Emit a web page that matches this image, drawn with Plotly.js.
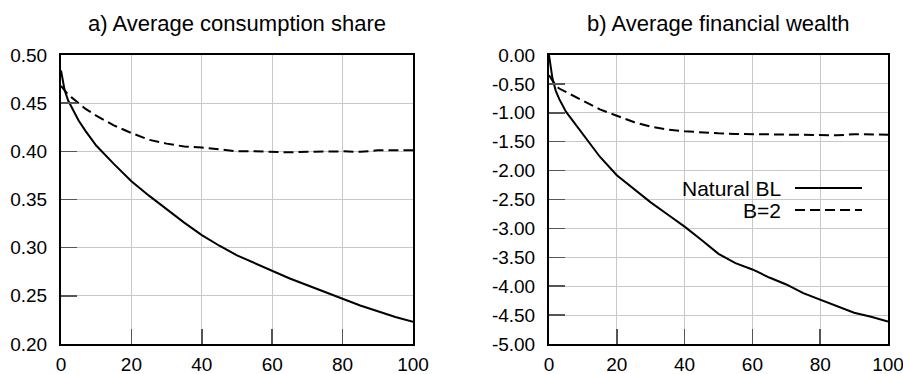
<!DOCTYPE html>
<html>
<head>
<meta charset="utf-8">
<script src="https://cdn.plot.ly/plotly-3.0.1.min.js"></script>
<style>html,body{margin:0;padding:0;background:#fff;}#chart{width:903px;height:374px;}</style>
</head>
<body>
<div id="chart"></div>
<script>
// Period (x) values
var periods = [0, 1, 2, 3, 5, 7, 10, 15, 20, 25, 30, 35, 40, 45, 50, 55, 60, 65, 70, 75, 80, 85, 90, 95, 100];

// a) Average consumption share
var consNatural = [0.484, 0.464, 0.453, 0.446, 0.432, 0.421, 0.406, 0.387, 0.369, 0.354, 0.340, 0.326, 0.313, 0.302, 0.292, 0.284, 0.276, 0.268, 0.261, 0.254, 0.247, 0.240, 0.234, 0.228, 0.223];
var consB2 = [0.468, 0.463, 0.459, 0.456, 0.450, 0.444, 0.437, 0.427, 0.419, 0.412, 0.408, 0.405, 0.404, 0.402, 0.400, 0.400, 0.3995, 0.399, 0.3995, 0.400, 0.400, 0.3995, 0.401, 0.401, 0.401];

// b) Average financial wealth
var wealthNatural = [0.00, -0.40, -0.62, -0.76, -0.98, -1.14, -1.38, -1.76, -2.08, -2.32, -2.55, -2.76, -2.97, -3.20, -3.44, -3.60, -3.71, -3.85, -3.97, -4.12, -4.23, -4.35, -4.46, -4.53, -4.61];
var wealthB2 = [-0.35, -0.45, -0.53, -0.58, -0.64, -0.70, -0.79, -0.94, -1.05, -1.16, -1.24, -1.29, -1.32, -1.34, -1.355, -1.365, -1.37, -1.375, -1.38, -1.38, -1.385, -1.39, -1.37, -1.38, -1.38];

// Tick labels
var xTicks = [0, 20, 40, 60, 80, 100];
var xTickText = ["0", "20", "40", "60", "80", "100"];
var consTicks = [0.20, 0.25, 0.30, 0.35, 0.40, 0.45, 0.50];
var consTickText = ["0.20", "0.25", "0.30", "0.35", "0.40", "0.45", "0.50"];
var wealthTicks = [-5, -4.5, -4, -3.5, -3, -2.5, -2, -1.5, -1, -0.5, 0];
var wealthTickText = ["-5.00", "-4.50", "-4.00", "-3.50", "-3.00", "-2.50", "-2.00", "-1.50", "-1.00", "-0.50", "0.00"];

var seriesNames = ["Natural BL", "B=2"];
var titles = ["a) Average consumption share", "b) Average financial wealth"];

var FONT = "Liberation Sans, Arial, Helvetica, sans-serif";
var solid = {color: "#000", width: 2, dash: "solid"};
var dashed = {color: "#000", width: 2, dash: "10px,5px"};

var traces = [
  {x: periods, y: consNatural, xaxis: "x", yaxis: "y", mode: "lines", line: solid, name: seriesNames[0], showlegend: false},
  {x: periods, y: consB2, xaxis: "x", yaxis: "y", mode: "lines", line: dashed, name: seriesNames[1], showlegend: false},
  {x: periods, y: wealthNatural, xaxis: "x2", yaxis: "y2", mode: "lines", line: solid, name: seriesNames[0], showlegend: false},
  {x: periods, y: wealthB2, xaxis: "x2", yaxis: "y2", mode: "lines", line: dashed, name: seriesNames[1], showlegend: false}
];

function xAxis(domain, anchor) {
  return {
    domain: domain, anchor: anchor, range: [0, 100],
    tickmode: "array", tickvals: xTicks, ticktext: xTickText,
    ticks: "inside", ticklen: 15, tickwidth: 1.5, tickcolor: "#555",
    showline: true, linecolor: "#000", linewidth: 2, mirror: true,
    showgrid: true, gridcolor: "#c8c8c8", gridwidth: 1, zeroline: false,
    ticklabelstandoff: 2, ticklabeloverflow: "allow",
    tickfont: {family: FONT, size: 19, color: "#000"}
  };
}
function yAxis(range, vals, text, anchor) {
  return {
    domain: [1 - 344/374, 1 - 55/374], anchor: anchor, range: range,
    tickmode: "array", tickvals: vals, ticktext: text,
    ticks: "inside", ticklen: 16, tickwidth: 1.5, tickcolor: "#555",
    showline: true, linecolor: "#000", linewidth: 2, mirror: true,
    showgrid: true, gridcolor: "#c8c8c8", gridwidth: 1, zeroline: false,
    ticklabelstandoff: 8, ticklabeloverflow: "allow",
    tickfont: {family: FONT, size: 19, color: "#000"}
  };
}

var legX0 = 795/903, legX1 = 862/903, legTextX = 782/903;
var legY1 = 1 - 188/374, legY2 = 1 - 210/374;

var layout = {
  width: 903, height: 374,
  margin: {l: 0, r: 0, t: 0, b: 0},
  paper_bgcolor: "#fff", plot_bgcolor: "#fff",
  showlegend: false,
  font: {family: FONT, color: "#000"},
  xaxis: xAxis([61/903, 413/903], "y"),
  yaxis: yAxis([0.2, 0.5], consTicks, consTickText, "x"),
  xaxis2: xAxis([549/903, 888/903], "y2"),
  yaxis2: yAxis([-5, 0], wealthTicks, wealthTickText, "x2"),
  annotations: [
    {text: titles[0], xref: "x domain", yref: "paper", x: 0.5, y: 1 - 23/374, xanchor: "center", yanchor: "middle", showarrow: false, font: {family: FONT, size: 22, color: "#000"}},
    {text: titles[1], xref: "x2 domain", yref: "paper", x: 0.5, y: 1 - 23/374, xanchor: "center", yanchor: "middle", showarrow: false, font: {family: FONT, size: 22, color: "#000"}},
    {text: seriesNames[0], xref: "paper", yref: "paper", x: legTextX, y: legY1, xanchor: "right", yanchor: "middle", showarrow: false, borderpad: 0, font: {family: FONT, size: 21, color: "#000"}},
    {text: seriesNames[1], xref: "paper", yref: "paper", x: legTextX, y: legY2, xanchor: "right", yanchor: "middle", showarrow: false, borderpad: 0, font: {family: FONT, size: 21, color: "#000"}}
  ],
  shapes: [
    {type: "line", xref: "paper", yref: "paper", x0: legX0, x1: legX1, y0: legY1, y1: legY1, line: {color: "#000", width: 2}},
    {type: "line", xref: "paper", yref: "paper", x0: legX0, x1: legX1, y0: legY2, y1: legY2, line: {color: "#000", width: 2, dash: "10px,5px"}}
  ]
};

Plotly.newPlot("chart", traces, layout, {displayModeBar: false, staticPlot: true});
</script>
</body>
</html>
